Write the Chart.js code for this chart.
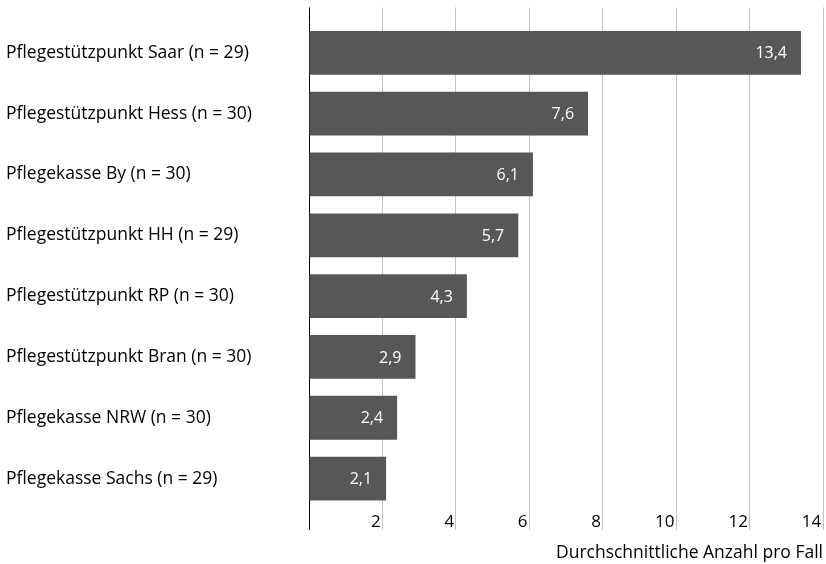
<!DOCTYPE html>
<html>
<head>
<meta charset="utf-8">
<script src="https://cdn.jsdelivr.net/npm/chart.js@4.4.1/dist/chart.umd.min.js"></script>
<style>
  html, body { margin: 0; padding: 0; background: #ffffff; }
  #wrap { width: 826px; height: 564px; position: relative; }
</style>
</head>
<body>
<div id="wrap"><canvas id="chart" width="826" height="564"></canvas></div>
<script>
// Durchschnittliche Anzahl pro Fall, nach Beratungsstelle
const categories = [
  'Pflegestützpunkt Saar (n = 29)',
  'Pflegestützpunkt Hess (n = 30)',
  'Pflegekasse By (n = 30)',
  'Pflegestützpunkt HH (n = 29)',
  'Pflegestützpunkt RP (n = 30)',
  'Pflegestützpunkt Bran (n = 30)',
  'Pflegekasse NRW (n = 30)',
  'Pflegekasse Sachs (n = 29)'
];
const averages = [13.4, 7.6, 6.1, 5.7, 4.3, 2.9, 2.4, 2.1];
const xTicks = [0, 2, 4, 6, 8, 10, 12, 14];
const axisTitle = 'Durchschnittliche Anzahl pro Fall';

const FONT = 'Open Sans';
const BAR_COLOR = '#575756';
const GRID_COLOR = '#c4c4c4';

const fmt = v => v.toFixed(1).replace('.', ',');
const gridColor = ctx => (ctx.tick && ctx.tick.value === 0) ? '#000000' : GRID_COLOR;

// white value labels inside the end of each bar
const valueLabels = {
  id: 'valueLabels',
  afterDatasetsDraw(chart) {
    const { ctx } = chart;
    const meta = chart.getDatasetMeta(0);
    ctx.save();
    ctx.fillStyle = '#ffffff';
    ctx.font = '16px "' + FONT + '"';
    ctx.textAlign = 'right';
    ctx.textBaseline = 'middle';
    meta.data.forEach((bar, i) => {
      ctx.fillText(fmt(averages[i]), bar.x - 14, bar.y + 1);
    });
    ctx.restore();
  }
};

new Chart(document.getElementById('chart'), {
  type: 'bar',
  data: {
    labels: categories,
    datasets: [{
      data: averages,
      backgroundColor: BAR_COLOR,
      borderWidth: 0,
      barPercentage: 0.72,
      categoryPercentage: 1
    }]
  },
  options: {
    indexAxis: 'y',
    responsive: false,
    animation: false,
    locale: 'de-DE',
    layout: { padding: { left: 6, right: 3, top: 8, bottom: 0 } },
    plugins: {
      legend: { display: false },
      tooltip: { enabled: false }
    },
    scales: {
      x: {
        type: 'linear',
        position: 'bottom',
        min: 0,
        max: 14,
        afterBuildTicks: s => { s.ticks = xTicks.map(v => ({ value: v })); },
        afterFit: s => { s.height = 55; },
        border: { display: false },
        grid: { color: gridColor, lineWidth: 1, tickLength: 21, drawTicks: true },
        ticks: {
          align: 'end',
          padding: -18,
          color: '#000000',
          font: { family: FONT, size: 17 },
          callback: v => (v === 0 ? '' : String(v) + '\u200A')
        },
        title: {
          display: true,
          text: axisTitle,
          align: 'end',
          color: '#000000',
          font: { family: FONT, size: 17.5 },
          padding: { top: 0, bottom: 0 }
        }
      },
      xTop: {
        type: 'linear',
        position: 'top',
        min: 0,
        max: 14,
        afterBuildTicks: s => { s.ticks = xTicks.map(v => ({ value: v })); },
        afterFit: s => { s.height = 14.4; },
        border: { display: false },
        grid: { color: gridColor, lineWidth: 1, tickLength: 15, drawOnChartArea: false },
        ticks: { display: false }
      },
      y: {
        type: 'category',
        position: 'left',
        afterFit: s => { s.width = 303; },
        border: { display: false },
        grid: { display: false, drawTicks: false },
        ticks: {
          crossAlign: 'far',
          color: '#000000',
          font: { family: FONT, size: 17.5 },
          padding: 0
        }
      }
    }
  },
  plugins: [valueLabels]
});
</script>
</body>
</html>
